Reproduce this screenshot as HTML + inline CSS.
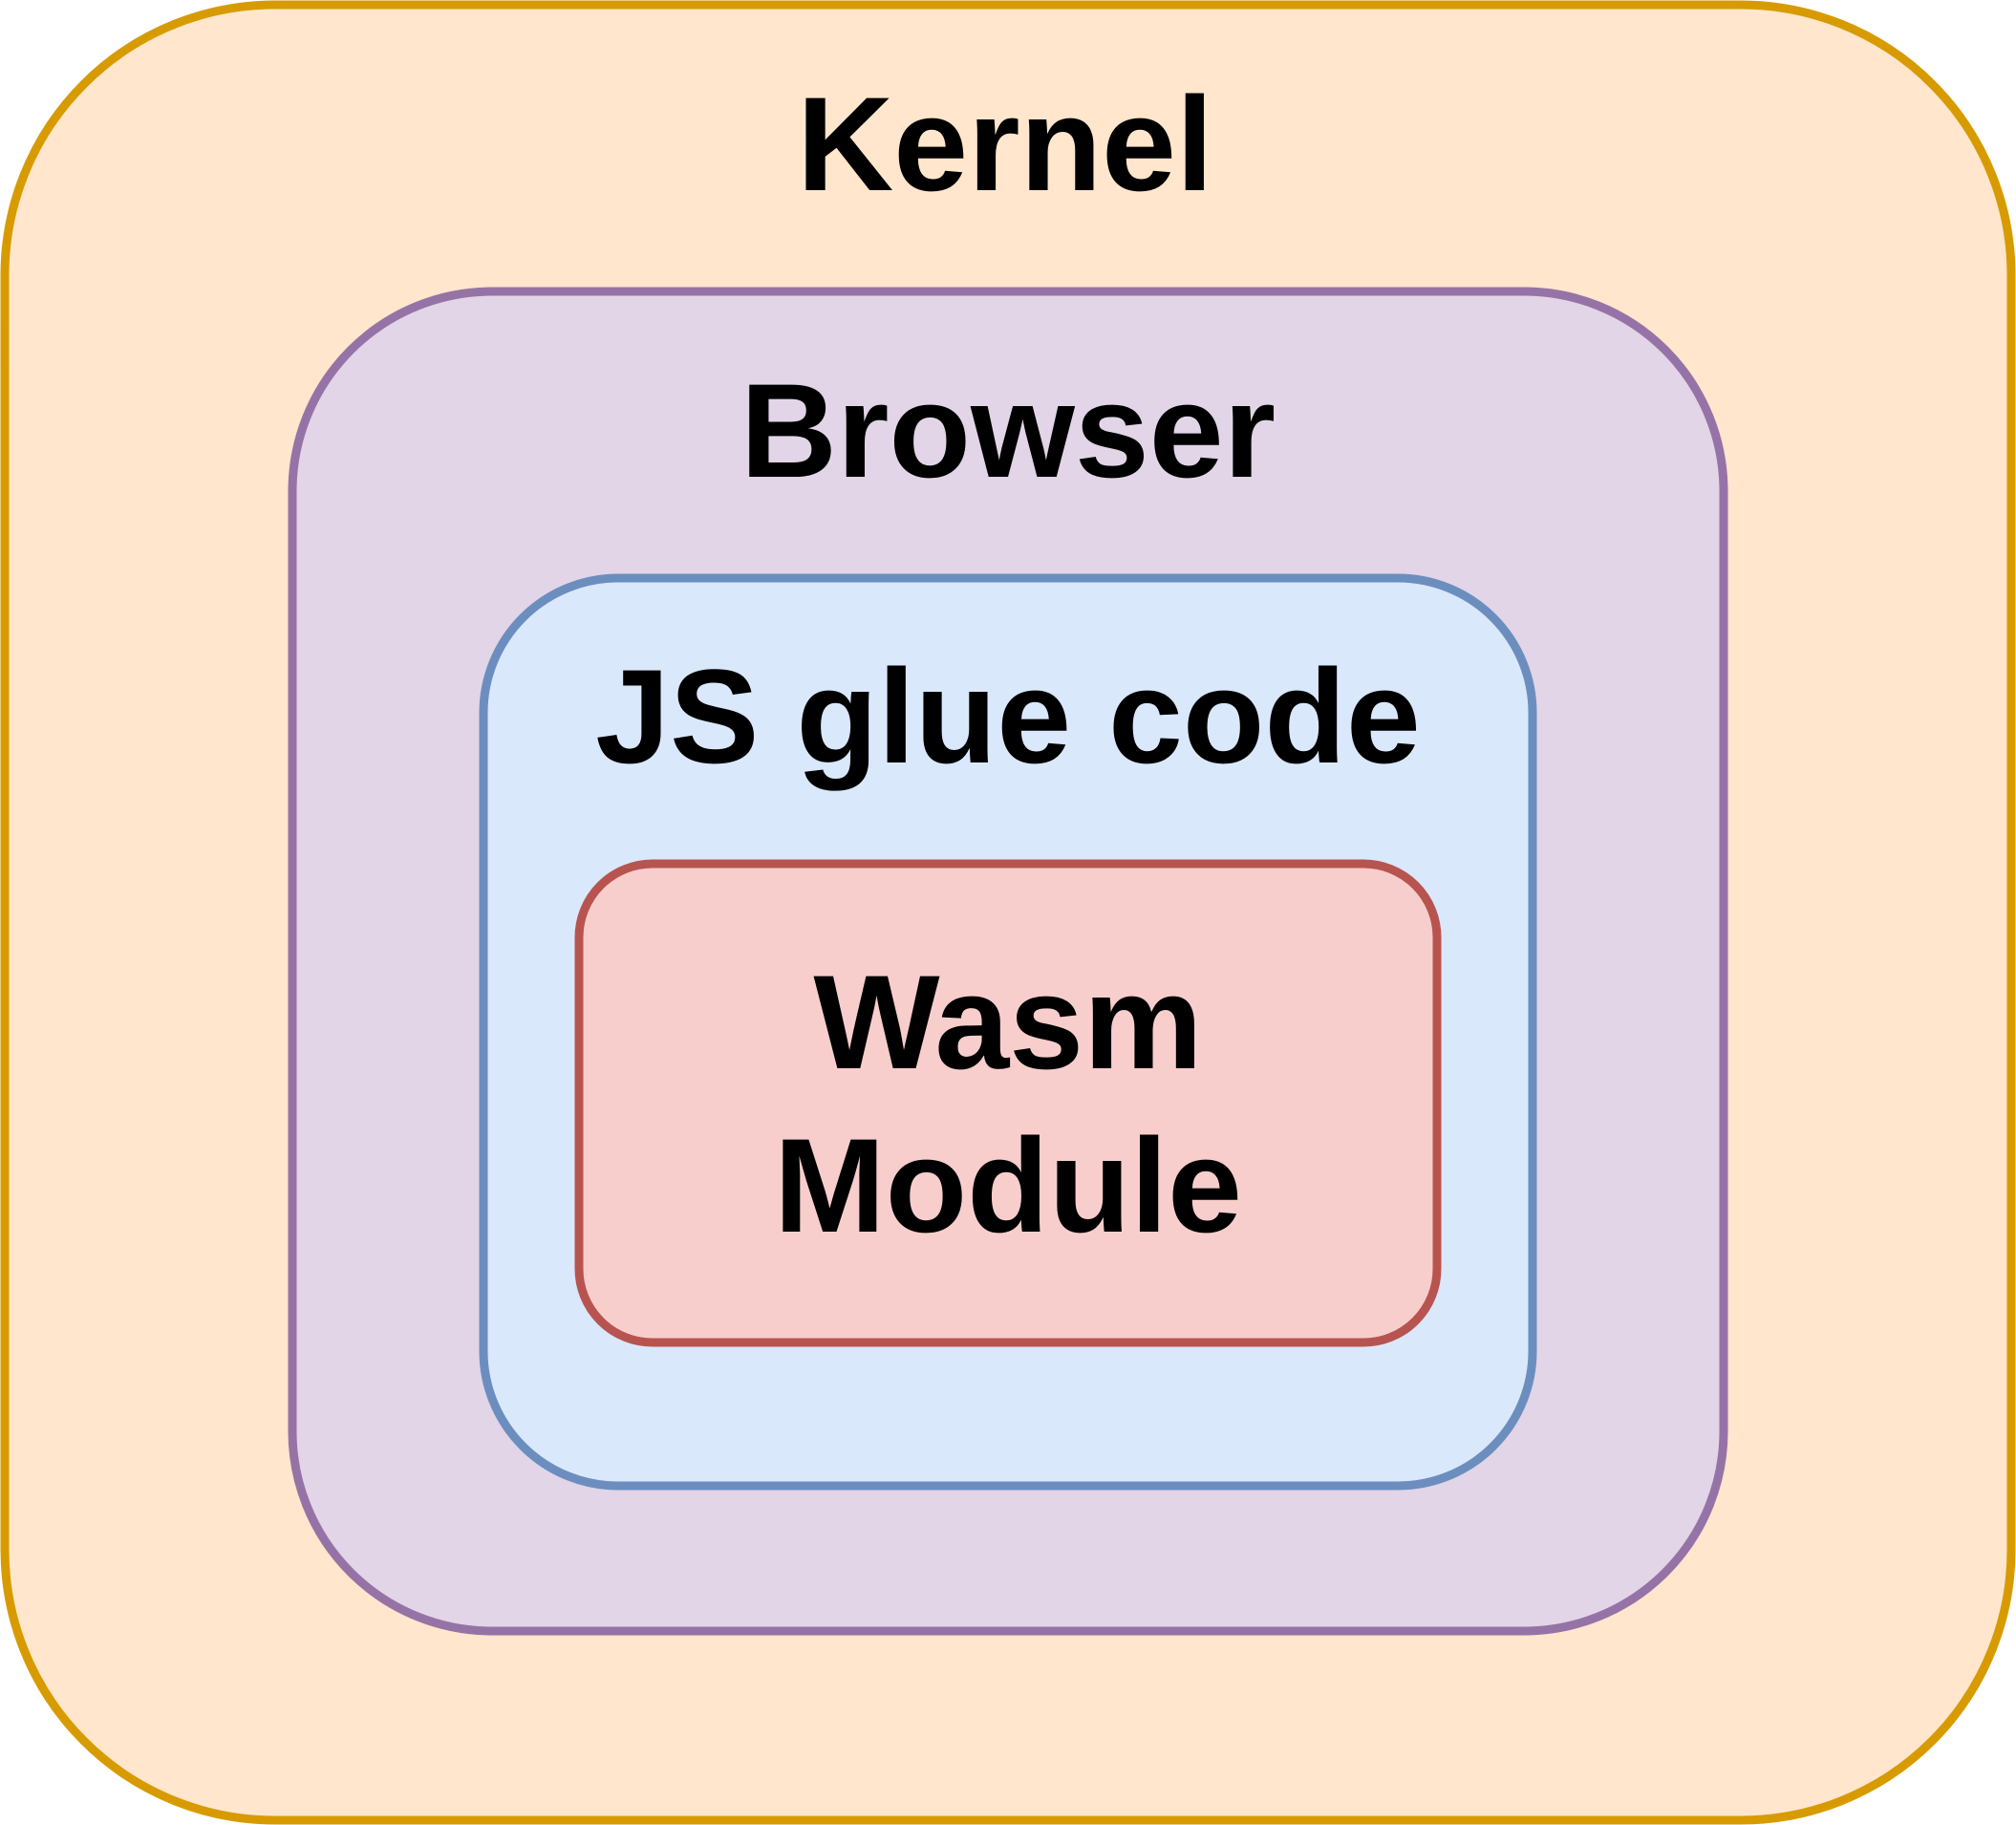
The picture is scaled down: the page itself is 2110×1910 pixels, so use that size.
<!DOCTYPE html>
<html><head><meta charset="utf-8"><style>
html,body{margin:0;padding:0;background:#fff;}
svg{display:block;}
text{font-family:"Liberation Sans",Arial,sans-serif;font-weight:bold;font-size:140px;fill:#000;text-anchor:middle;}
</style></head><body>
<svg width="2110" height="1910" viewBox="0 0 2110 1910" xmlns="http://www.w3.org/2000/svg">
<rect x="5" y="5" width="2100" height="1900" rx="283" ry="283" fill="#ffe6cc" stroke="#d79b00" stroke-width="9"/>
<rect x="306" y="305" width="1498" height="1402" rx="209" ry="209" fill="#e1d5e7" stroke="#9673a6" stroke-width="9"/>
<rect x="506" y="605" width="1098" height="950" rx="141" ry="141" fill="#dae8fc" stroke="#6c8ebf" stroke-width="9"/>
<rect x="606" y="904" width="898" height="501" rx="77" ry="77" fill="#f8cecc" stroke="#b85450" stroke-width="9"/>
<text x="1052" y="199">Kernel</text>
<text x="1055" y="499">Browser</text>
<text x="1055" y="798">JS glue code</text>
<text x="1055" y="1118">Wasm</text>
<text x="1055" y="1289">Module</text>
</svg>
</body></html>
